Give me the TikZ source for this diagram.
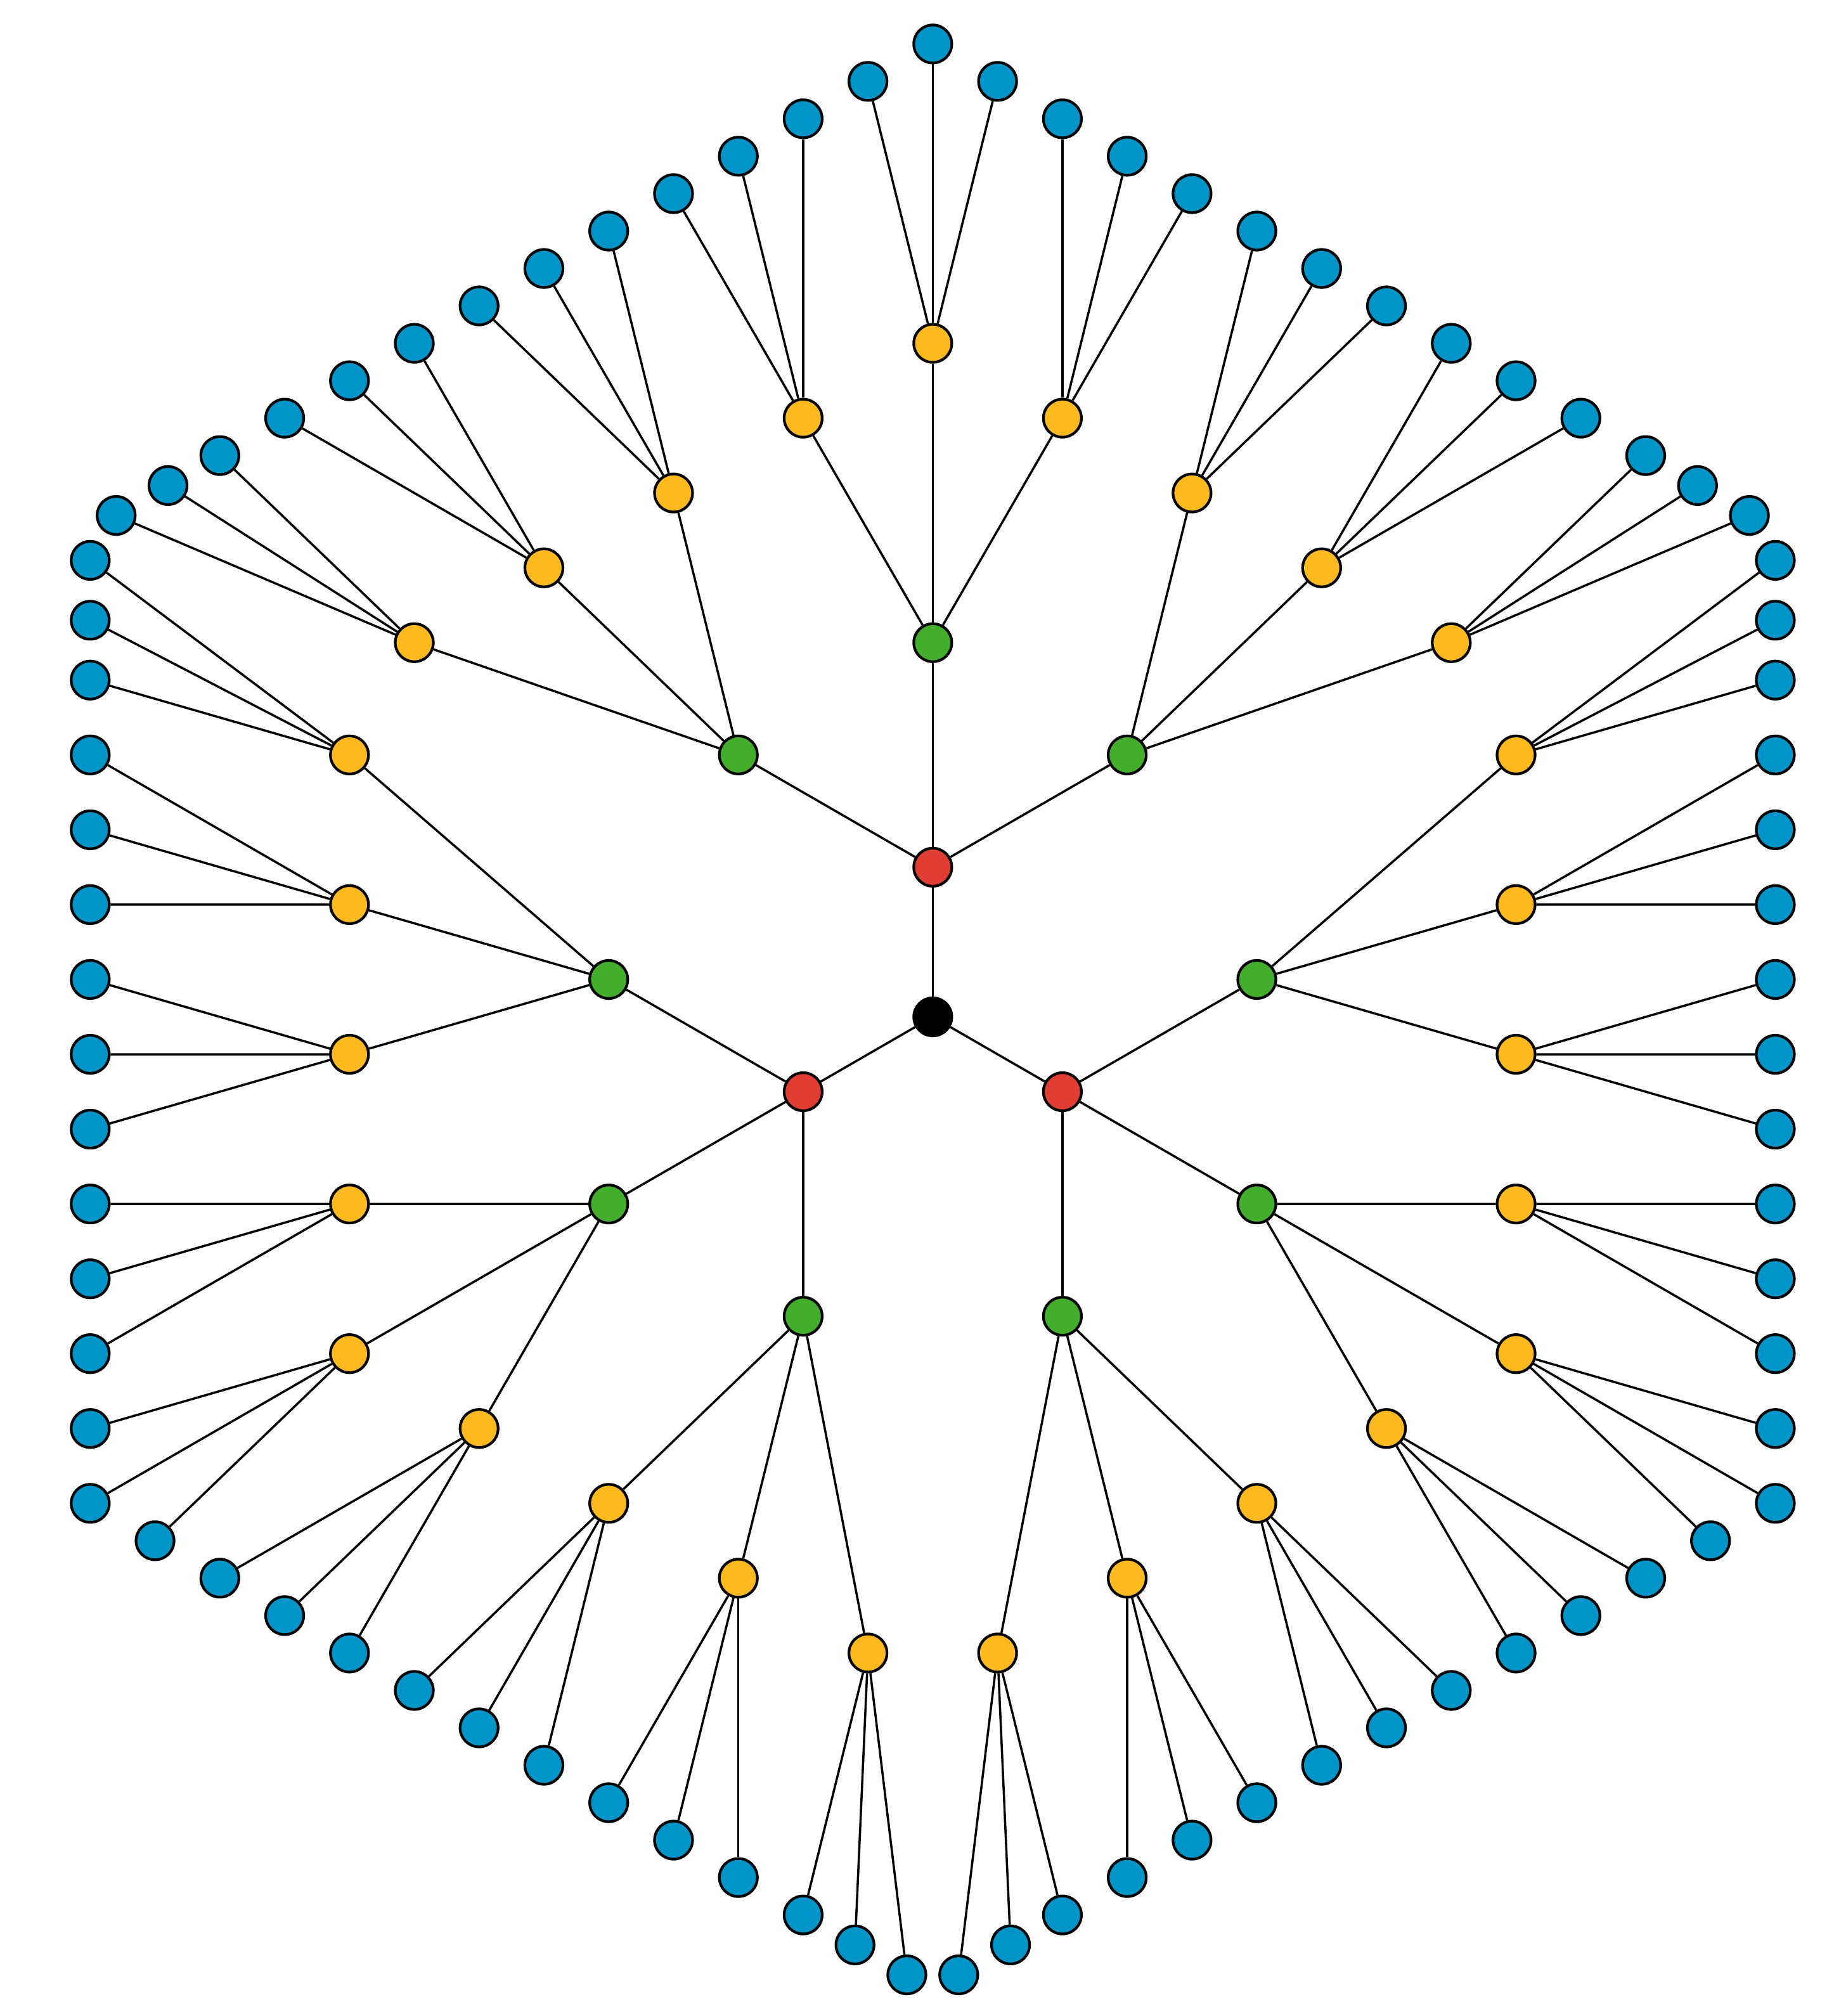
\documentclass[tikz,border=0pt]{standalone}
\usetikzlibrary{positioning}
\definecolor{myblue}{RGB}{0,149,200}
\definecolor{mygreen}{RGB}{67,174,44}
\definecolor{myred}{RGB}{224,62,50}
\definecolor{myyellow}{RGB}{253,185,30}

\begin{document}
\begin{tikzpicture}[x=2.361cm,y=2.361cm,line width=1pt,
  dot/.style={draw,circle,line width=1.2pt,inner sep=0pt,minimum size=0.6cm},
  rootnode/.style={dot,fill=black},
  rnode/.style={dot,fill=myred},
  gnode/.style={dot,fill=mygreen},
  ynode/.style={dot,fill=myyellow},
  bnode/.style={dot,fill=myblue}]

 \useasboundingbox (-14.714cm,-15.76cm) rectangle (14.216cm,16.04cm);

 \node[rootnode] (root) at (0,0) {};

 % one third of the tree, turned three times
 \foreach \t in {0,1,2}{
  \begin{scope}[rotate=120*\t]
   \node[rnode] (r\t) at (0,1) {};
   \foreach \g/\s in {1/-1.5,2/0,3/1.5}
     \node[gnode] (g\t-\g) at ({\s*cos(30)},{2.5-abs(\s)/2}) {};
   \foreach \k/\s in {1/-4,2/-3,3/-2,4/-1,5/0,6/1,7/2,8/3,9/4}
     \node[ynode] (y\t-\k) at ({\s*cos(30)},{4.5-abs(\s)/2}) {};
   \foreach \m/\s in {1/-6.3,2/-5.9,3/-5.5,4/-5,5/-4.5,6/-4,7/-3.5,8/-3,9/-2.5,
       10/-2,11/-1.5,12/-1,13/-0.5,14/0,15/0.5,16/1,17/1.5,18/2,
       19/2.5,20/3,21/3.5,22/4,23/4.5,24/5,25/5.5,26/5.9,27/6.3}
     \node[bnode] (b\t-\m) at ({\s*cos(30)},{6.5-abs(\s)/2}) {};
  \end{scope}

  % edges
  \draw (root) -- (r\t);
  \foreach \g in {1,2,3}
    \draw (r\t) -- (g\t-\g);
  \foreach \k in {1,...,9}{
    \pgfmathtruncatemacro{\p}{(\k+2)/3}
    \draw (g\t-\p) -- (y\t-\k);
  }
  \foreach \m in {1,...,27}{
    \pgfmathtruncatemacro{\p}{(\m+2)/3}
    \draw (y\t-\p) -- (b\t-\m);
  }
 }

\end{tikzpicture}
\end{document}
